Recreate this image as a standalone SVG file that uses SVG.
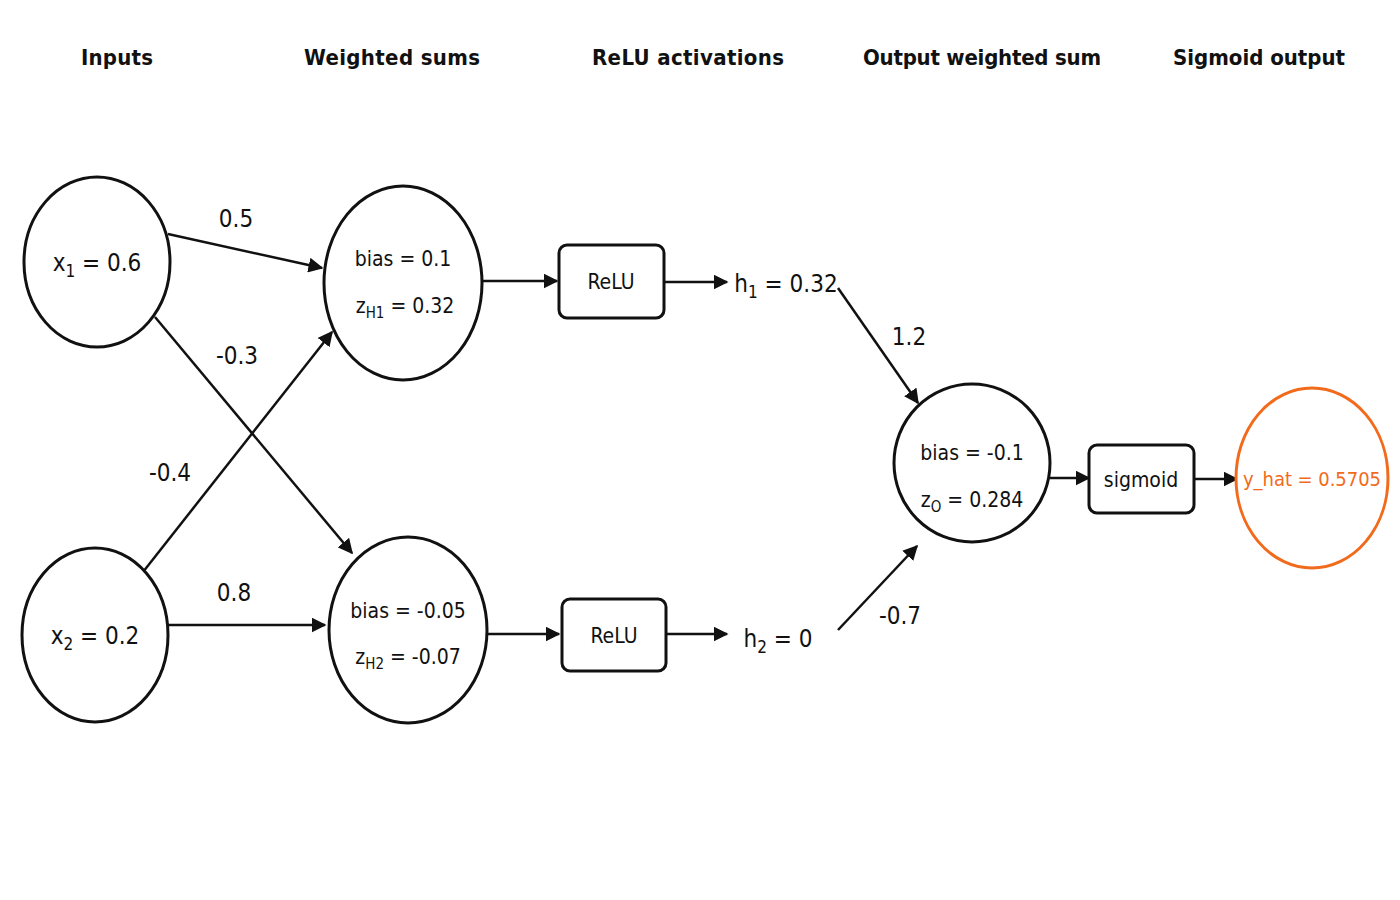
<svg xmlns="http://www.w3.org/2000/svg" width="1400" height="900" viewBox="0 0 1400 900">
<style>
text{font-family:"DejaVu Sans Condensed","DejaVu Sans",sans-serif;fill:#111;text-anchor:middle}
.h{font-size:22px;font-weight:bold}
.n{font-size:24px}
.s{font-size:21px}
.w{font-size:24px}
.node{fill:#fff;stroke:#111;stroke-width:3}
.edge{stroke:#111;stroke-width:2.5;fill:none;marker-end:url(#a)}
</style>
<defs><marker id="a" viewBox="0 0 10 10" refX="9" refY="5" markerWidth="6" markerHeight="6" orient="auto" markerUnits="strokeWidth"><path d="M0,0L10,5L0,10z" fill="#111"/></marker></defs>
<rect width="1400" height="900" fill="#fff"/>
<g id="headers">
<text class="h" x="117" y="65" textLength="72">Inputs</text>
<text class="h" x="392" y="65" textLength="176">Weighted sums</text>
<text class="h" x="688" y="65" textLength="192">ReLU activations</text>
<text class="h" x="982" y="65" textLength="238">Output weighted sum</text>
<text class="h" x="1259" y="65" textLength="172">Sigmoid output</text>
</g>
<g id="connectors">
<line class="edge" x1="168" y1="234" x2="322" y2="268"/>
<line class="edge" x1="155" y1="317" x2="352" y2="553"/>
<line class="edge" x1="143" y1="572" x2="332" y2="332"/>
<line class="edge" x1="168" y1="625" x2="325" y2="625"/>
<line class="edge" x1="483" y1="281" x2="557" y2="281"/>
<line class="edge" x1="664" y1="282" x2="727" y2="282"/>
<line class="edge" x1="838" y1="288" x2="918" y2="403"/>
<line class="edge" x1="838" y1="630" x2="917" y2="546"/>
<line class="edge" x1="488" y1="634" x2="559" y2="634"/>
<line class="edge" x1="666" y1="634" x2="727" y2="634"/>
<line class="edge" x1="1050" y1="478" x2="1089" y2="478"/>
<line class="edge" x1="1194" y1="479" x2="1237" y2="479"/>
<text class="w" x="236" y="227">0.5</text>
<text class="w" x="237" y="364">-0.3</text>
<text class="w" x="170" y="481">-0.4</text>
<text class="w" x="234" y="601">0.8</text>
<text class="w" x="909" y="345">1.2</text>
<text class="w" x="900" y="624">-0.7</text>
</g>
<g id="x1"><ellipse class="node" cx="97" cy="262" rx="73" ry="85"/><text class="n" x="97" y="271">x<tspan font-size="17" dy="6">1</tspan><tspan dy="-6"> = 0.6</tspan></text></g>
<g id="x2"><ellipse class="node" cx="95" cy="635" rx="73" ry="87"/><text class="n" x="95" y="644">x<tspan font-size="17" dy="6">2</tspan><tspan dy="-6"> = 0.2</tspan></text></g>
<g id="H1"><ellipse class="node" cx="403" cy="283" rx="79" ry="97"/><text class="s" x="403" y="266">bias = 0.1</text><text class="s" x="405" y="313">z<tspan font-size="15" dy="5">H1</tspan><tspan dy="-5"> = 0.32</tspan></text></g>
<g id="H2"><ellipse class="node" cx="408" cy="630" rx="79" ry="93"/><text class="s" x="408" y="618">bias = -0.05</text><text class="s" x="408" y="664">z<tspan font-size="15" dy="5">H2</tspan><tspan dy="-5"> = -0.07</tspan></text></g>
<g id="relu1"><rect class="node" x="559" y="245" width="105" height="73" rx="8"/><text class="s" x="611" y="289">ReLU</text></g>
<g id="relu2"><rect class="node" x="562" y="599" width="104" height="72" rx="8"/><text class="s" x="614" y="643">ReLU</text></g>
<g id="h1"><text class="n" x="786" y="292">h<tspan font-size="17" dy="6">1</tspan><tspan dy="-6"> = 0.32</tspan></text></g>
<g id="h2"><text class="n" x="778" y="647">h<tspan font-size="17" dy="6">2</tspan><tspan dy="-6"> = 0</tspan></text></g>
<g id="O"><ellipse class="node" cx="972" cy="463" rx="78" ry="79"/><text class="s" x="972" y="460">bias = -0.1</text><text class="s" x="972" y="507">z<tspan font-size="15" dy="5">O</tspan><tspan dy="-5"> = 0.284</tspan></text></g>
<g id="sigmoid"><rect class="node" x="1089" y="445" width="105" height="68" rx="8"/><text class="s" x="1141" y="487">sigmoid</text></g>
<g id="yhat"><ellipse cx="1312" cy="478" rx="76" ry="90" fill="#fff" stroke="#f26a1b" stroke-width="3"/><text x="1312" y="486" font-size="20" textLength="138" style="fill:#f26a1b">y_hat = 0.5705</text></g>
</svg>
